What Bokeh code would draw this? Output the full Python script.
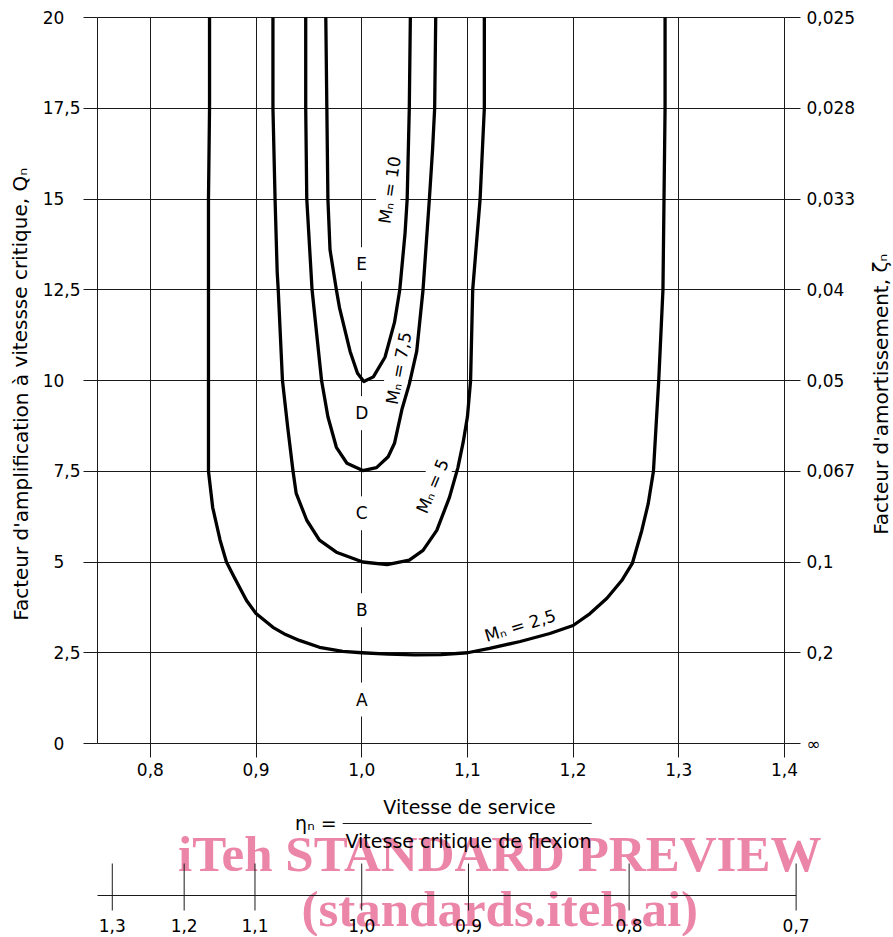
import math
from bokeh.plotting import figure
from bokeh.layouts import column, row
from bokeh.models import Range1d, LinearAxis, FixedTicker, Label
from bokeh.core.properties import value
from bokeh.embed import file_html
from bokeh.resources import INLINE

FONT = "DejaVu Sans"
INK = "#1a1a1a"

# ---------------- data ----------------
eta_ticks = [0.8, 0.9, 1.0, 1.1, 1.2, 1.3, 1.4]
eta_tick_labels = ["0,8", "0,9", "1,0", "1,1", "1,2", "1,3", "1,4"]
q_ticks = [0, 2.5, 5, 7.5, 10, 12.5, 15, 17.5, 20]
q_tick_labels = ["0", "2,5", "5", "7,5", "10", "12,5", "15", "17,5", "20"]
zeta_tick_labels = ["∞", "0,2", "0,1", "0,067", "0,05", "0,04", "0,033", "0,028", "0,025"]
# reciprocal scale (critical / service speed), positions read on the eta scale
inv_tick_labels = ["1,3", "1,2", "1,1", "1,0", "0,9", "0,8", "0,7"]
inv_tick_pos = [0.764, 0.832, 0.899, 1.0, 1.101, 1.253, 1.411]

m25_eta = [0.856, 0.856, 0.855, 0.855, 0.855, 0.855, 0.859, 0.866, 0.872, 0.879, 0.891,
           0.900, 0.916, 0.928, 0.941, 0.960, 0.982, 1.000, 1.025, 1.050, 1.075, 1.100,
           1.121, 1.150, 1.178, 1.200, 1.216, 1.232, 1.246, 1.256, 1.265, 1.271, 1.276,
           1.281, 1.285, 1.286, 1.287, 1.287]
m25_q = [20, 17.5, 15, 12.5, 10, 7.5, 6.5, 5.6, 5.0, 4.6, 3.94,
         3.58, 3.2, 3.0, 2.84, 2.65, 2.54, 2.50, 2.46, 2.44, 2.45, 2.50,
         2.62, 2.81, 3.03, 3.25, 3.58, 4.0, 4.49, 4.96, 5.87, 6.6, 7.5,
         10, 12.5, 15, 17.5, 20]

m5_eta = [0.916, 0.916, 0.918, 0.920, 0.921, 0.925, 0.930, 0.935, 0.938, 0.948, 0.960,
          0.976, 1.001, 1.024, 1.045, 1.058, 1.071, 1.083, 1.091, 1.096, 1.100, 1.103,
          1.105, 1.112, 1.116, 1.116]
m5_q = [20, 17.5, 15, 13, 12.5, 10, 8.7, 7.5, 6.89, 6.15, 5.6,
        5.27, 5.0, 4.93, 5.05, 5.32, 5.87, 6.78, 7.6, 8.3, 9.0, 10,
        12.5, 15, 17.5, 20]

m75_eta = [0.947, 0.947, 0.948, 0.953, 0.962, 0.968, 0.976, 0.986, 1.001, 1.014, 1.025,
           1.031, 1.038, 1.045, 1.052, 1.058, 1.064, 1.067, 1.069, 1.070]
m75_q = [20, 17.5, 15, 12.5, 10, 9.0, 8.16, 7.72, 7.52, 7.6, 7.9,
         8.27, 9.2, 9.9, 10.8, 12.5, 15, 16.35, 17.5, 20]

m10_eta = [0.966, 0.967, 0.968, 0.970, 0.976, 0.979, 0.989, 0.996, 1.002, 1.011, 1.022,
           1.031, 1.036, 1.041, 1.043, 1.045, 1.046]
m10_q = [20, 17.5, 15, 13.6, 12.5, 12.0, 10.8, 10.2, 9.97, 10.1, 10.64,
         11.6, 12.5, 14.06, 15, 17.5, 20]

zone_letters = ["A", "B", "C", "D", "E"]
zone_q = [1.21, 3.67, 6.34, 9.1, 13.2]

curve_names = ["Mₙ = 10", "Mₙ = 7,5", "Mₙ = 5", "Mₙ = 2,5"]

# ---------------- layout constants (px) ----------------
PAGE_W = 893
PX_PER_ETA = 1056.9           # horizontal scale shared by the panels
FRAME_L, FRAME_R = 97, 784    # main frame, page x
FRAME_T, FRAME_B = 17, 743    # main frame, page y
TOP_H = 790
LT_W, RT_W = 37, 27           # side strips holding the rotated titles
PX_PER_Q = (FRAME_B - FRAME_T) / 20.0
Q_TOP = 20 + FRAME_T / PX_PER_Q
Q_BOT = -(TOP_H - FRAME_B) / PX_PER_Q

# ---------------- main chart ----------------
P_W = PAGE_W - LT_W - RT_W
p = figure(width=P_W, height=TOP_H, x_range=Range1d(0.75, 1.4), y_range=Range1d(0, 20),
           output_backend="svg", toolbar_location=None, title=None,
           x_axis_location=None, y_axis_location=None,
           min_border_left=FRAME_L - LT_W, min_border_right=LT_W + P_W - FRAME_R,
           min_border_top=FRAME_T, min_border_bottom=TOP_H - FRAME_B,
           outline_line_color=INK, outline_line_width=1,
           background_fill_color="white", border_fill_color="white")
p.frame_align = False

p.xgrid.ticker = FixedTicker(ticks=eta_ticks)
p.ygrid.ticker = FixedTicker(ticks=q_ticks)
for g in (p.xgrid, p.ygrid):
    g.grid_line_color = INK
    g.grid_line_width = 1
    g.grid_line_alpha = 1.0


def style_axis(ax, tick_out, standoff):
    ax.axis_line_color = None
    ax.major_tick_line_color = INK
    ax.major_tick_line_width = 1
    ax.major_tick_in = 0
    ax.major_tick_out = tick_out
    ax.minor_tick_line_color = None
    ax.major_label_standoff = standoff
    ax.major_label_text_font = FONT
    ax.major_label_text_font_size = "17px"
    ax.major_label_text_color = "black"


PAD = "\u2008\u2007"  # width of ",5" so integers line up like the original
left_labels = {t: (lab if "," in lab else lab + PAD) for t, lab in zip(q_ticks, q_tick_labels)}
yl = LinearAxis(ticker=FixedTicker(ticks=q_ticks), major_label_overrides=left_labels)
style_axis(yl, 14, 3)
p.add_layout(yl, "left")

yr = LinearAxis(ticker=FixedTicker(ticks=q_ticks),
                major_label_overrides=dict(zip(q_ticks, zeta_tick_labels)))
style_axis(yr, 16, 6)
p.add_layout(yr, "right")

xb = LinearAxis(ticker=FixedTicker(ticks=eta_ticks),
                major_label_overrides=dict(zip(eta_ticks, eta_tick_labels)))
style_axis(xb, 14, 5)
p.add_layout(xb, "below")

# zone letters on the 1,0 line (white box interrupts the line)
p.text(x=[1.0] * len(zone_letters), y=zone_q, text=zone_letters,
       text_font=value(FONT), text_font_size="17px", text_color="black",
       text_align="center", text_baseline="middle",
       background_fill_color="white", padding=7)

# curve labels
p.text(x=[1.0265, 1.035, 1.067, 1.150], y=[15.25, 10.34, 7.09, 3.25], text=curve_names,
       angle=[math.radians(81), math.radians(79), math.radians(67), math.radians(17)],
       text_font=value(FONT), text_font_size="17px", text_color="black",
       text_align="center", text_baseline="middle",
       background_fill_color="white", padding=2)

for ex, qy in ((m25_eta, m25_q), (m5_eta, m5_q), (m75_eta, m75_q), (m10_eta, m10_q)):
    p.line(ex, qy, line_width=3.3, line_color="black", line_join="round", line_cap="round")


# ---------------- side strips with the rotated axis titles ----------------
def title_strip(width, text, x_center):
    s = figure(width=width, height=TOP_H, x_range=Range1d(0, width), y_range=Range1d(Q_BOT, Q_TOP),
               output_backend="svg", toolbar_location=None, title=None,
               x_axis_location=None, y_axis_location=None,
               min_border_left=0, min_border_right=0, min_border_top=0, min_border_bottom=0,
               outline_line_color=None, background_fill_color="white", border_fill_color="white")
    s.frame_align = False
    s.grid.visible = False
    s.text(x=[x_center], y=[9.62], text=[text], angle=[math.pi / 2],
           text_font=value(FONT), text_font_size="20px", text_color="black",
           text_align="center", text_baseline="middle")
    return s


p_left = title_strip(LT_W, "Facteur d'amplification à vitessse critique, Qₙ", 20)
p_right = title_strip(RT_W, "Facteur d'amortissement, ζₙ", 880 - (PAGE_W - RT_W))

# ---------------- lower strip: definition of eta and reciprocal scale ----------------
# y in this strip: pixels above the reciprocal scale line
p2 = figure(width=PAGE_W, height=146,
            x_range=Range1d(0.75 - FRAME_L / PX_PER_ETA, 0.75 + (PAGE_W - FRAME_L) / PX_PER_ETA),
            y_range=Range1d(-41, 105),
            output_backend="svg", toolbar_location=None, title=None,
            x_axis_location=None, y_axis_location=None,
            min_border_left=0, min_border_right=0, min_border_top=0, min_border_bottom=0,
            outline_line_color=None, background_fill_color="white", border_fill_color="white")
p2.frame_align = False
p2.grid.visible = False

WM = "#ec86a8"
p2.add_layout(Label(x=1.1306, y=42, text="iTeh STANDARD PREVIEW", text_align="center",
                    text_baseline="alphabetic", text_font="Liberation Serif",
                    text_font_style="bold", text_font_size="51px", text_color=WM,
                    level="underlay"))
p2.add_layout(Label(x=1.1306, y=-13, text="(standards.iteh.ai)", text_align="center",
                    text_baseline="alphabetic", text_font="Liberation Serif",
                    text_font_style="bold", text_font_size="51px", text_color=WM,
                    level="underlay"))

# reciprocal scale
p2.segment(x0=[0.75], y0=[0], x1=[max(inv_tick_pos)], y1=[0], line_color=INK, line_width=1)
p2.segment(x0=inv_tick_pos, y0=[-15] * len(inv_tick_pos), x1=inv_tick_pos,
           y1=[32] * len(inv_tick_pos), line_color=INK, line_width=1)
p2.text(x=inv_tick_pos, y=[-29.5] * len(inv_tick_pos), text=inv_tick_labels,
        text_font=value(FONT), text_font_size="17px", text_align="center",
        text_baseline="middle", text_color="black")

# eta definition
p2.text(x=[1.102], y=[89], text=["Vitesse de service"], text_font=value(FONT),
        text_font_size="19px", text_align="center", text_baseline="middle", text_color="black")
p2.text(x=[1.101], y=[55], text=["Vitesse critique de flexion"], text_font=value(FONT),
        text_font_size="19px", text_align="center", text_baseline="middle", text_color="black")
p2.text(x=[0.9763], y=[73], text=["ηₙ ="], text_font=value(FONT),
        text_font_size="19px", text_align="right", text_baseline="middle", text_color="black")
p2.segment(x0=[0.982], y0=[72], x1=[1.2176], y1=[72], line_color=INK, line_width=1)

layout = column(row(p_left, p, p_right), p2)
open("out.html", "w").write(file_html(layout, INLINE))
